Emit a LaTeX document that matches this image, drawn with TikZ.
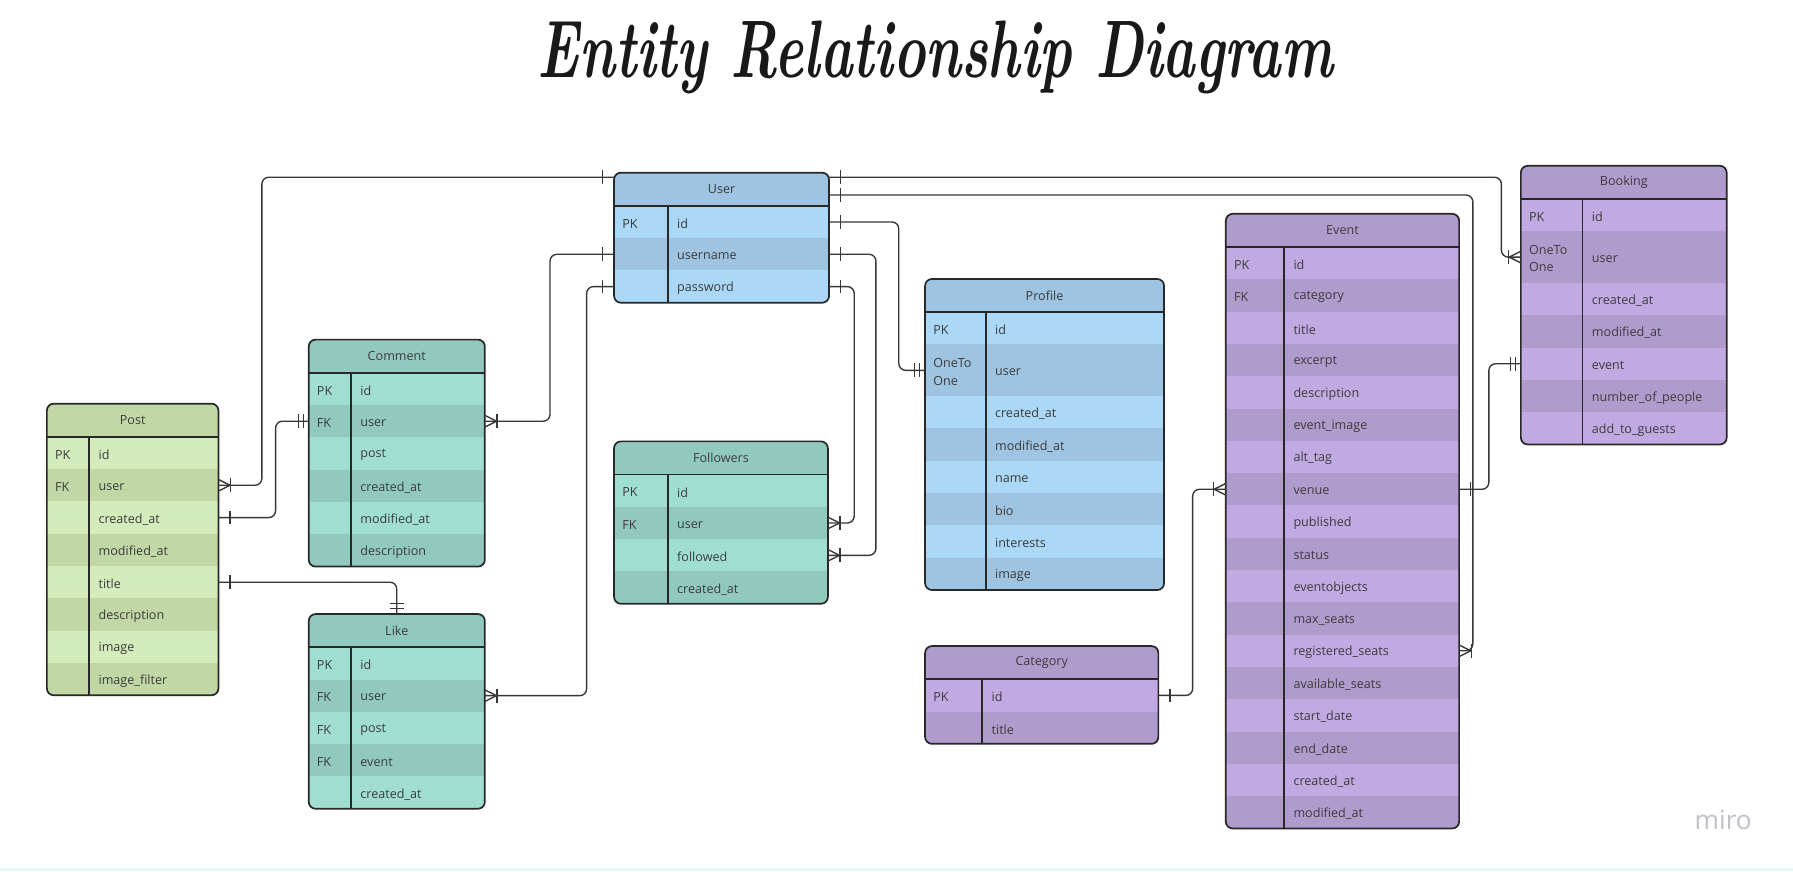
\documentclass[tikz,border=0pt]{standalone}
\usepackage{fontspec}
\usepackage{graphicx}
\newfontfamily\osans{Open Sans}
\usetikzlibrary{calc}
\definecolor{blueL}{RGB}{170,216,246}
\definecolor{blueD}{RGB}{158,196,226}
\definecolor{greenL}{RGB}{212,235,187}
\definecolor{greenD}{RGB}{193,215,166}
\definecolor{tealL}{RGB}{160,222,209}
\definecolor{tealD}{RGB}{146,201,190}
\definecolor{purpL}{RGB}{193,170,226}
\definecolor{purpD}{RGB}{176,155,205}
\definecolor{lineC}{RGB}{55,55,55}
\definecolor{borderC}{RGB}{40,40,40}
\definecolor{txtC}{RGB}{60,60,60}
\definecolor{titleC}{RGB}{25,25,25}
\definecolor{miroC}{RGB}{192,192,200}
\definecolor{bandC}{RGB}{232,247,247}
\tikzset{
  conn/.style={draw=lineC, line width=1.2pt, rounded corners=6pt},
  mk/.style={draw=lineC, line width=1.2pt},
  tline/.style={draw=borderC, line width=1.5pt},
  hdrbox/.style={inner sep=0pt, font=\osans\fontsize{11}{13}\selectfont, text=txtC},
  rowbox/.style={inner sep=0pt},
  keytxt/.style={anchor=west, inner sep=0pt, align=left, font=\osans\fontsize{11}{15}\selectfont, text=txtC},
  fldtxt/.style={anchor=west, inner sep=0pt, font=\osans\fontsize{11}{13}\selectfont, text=txtC},
}
% #1 name, #2 left, #3 divider, #4 right, #5 top, #6 title, #7 palette, #8 rows key/field/id/h
\newcommand\ertable[8]{%
  \pgfmathsetmacro\tW{#4-#2}%
  \xdef\tH{29}%
  \foreach \k/\f/\n/\h in {#8}{\pgfmathsetmacro\tmp{\tH+\h*28.25}\xdef\tH{\tmp}}%
  \pgfmathsetmacro\tB{#5+\tH}%
  \begin{scope}
    \clip[rounded corners=6pt] (#2,#5) rectangle (#4,\tB);
    \fill[#7D] (#2,#5) rectangle (#4,#5+29);
    \pgfmathsetmacro\tmp{#5+29}\xdef\cy{\tmp}\xdef\ri{0}%
    \foreach \k/\f/\n/\h in {#8}{%
      \pgfmathsetmacro\rh{\h*28.25}%
      \pgfmathsetmacro\ny{\cy+\rh}%
      \pgfmathsetmacro\my{\cy+\rh/2}%
      \ifodd\ri\relax \def\rc{#7D}\else\def\rc{#7L}\fi
      \fill[\rc] (#2,\cy) rectangle (#4,\ny);
      \node[rowbox, minimum width=\tW pt, minimum height=\rh pt] (#1-\n) at ({(#2+#4)/2},\my) {};
      \node[keytxt] at (#2+7,\my+1.5) {\k};
      \node[fldtxt] at (#3+8,\my+1.5) {\f};
      \xdef\cy{\ny}%
      \pgfmathtruncatemacro\tmp{\ri+1}\xdef\ri{\tmp}%
    }%
  \end{scope}
  \node[hdrbox, minimum width=\tW pt, minimum height=29pt] (#1-hdr) at ({(#2+#4)/2},#5+14.5) {#6};
  \draw[tline] (#2,#5+29) -- (#4,#5+29);
  \draw[tline] (#3,#5+29) -- (#3,\tB);
  \draw[tline, rounded corners=6pt] (#2,#5) rectangle (#4,\tB);
}
\newcommand\markone[2]{\begin{scope}[shift={(#1)},xscale=#2]
  \draw[mk] (10,-6) -- (10,6);
\end{scope}}
\newcommand\marktwo[2]{\begin{scope}[shift={(#1)},xscale=#2]
  \draw[mk] (4.5,-6) -- (4.5,6);
  \draw[mk] (9,-6) -- (9,6);
\end{scope}}
\newcommand\markcrow[2]{\begin{scope}[shift={(#1)},xscale=#2]
  \draw[mk] (0,-5) -- (10,0) -- (0,5);
  \draw[mk] (10.5,-6) -- (10.5,6);
\end{scope}}
\newcommand\marktwodown[1]{%
  \draw[mk] ([shift={(-6,-4.5)}]#1) -- ++(12,0);
  \draw[mk] ([shift={(-6,-9)}]#1) -- ++(12,0);
}
\begin{document}
\begin{tikzpicture}[x=1pt,y=-1pt]
\useasboundingbox (0,0) rectangle (1568,762);
\fill[white] (0,0) rectangle (1568,762);
\fill[bandC] (0,759) rectangle (1568,762);

\node[text=titleC, inner sep=0pt] (title) at (818,50)
  {\resizebox*{695pt}{64pt}{\bfseries\itshape Entity Relationship Diagram}};
\node[text=miroC, inner sep=0pt, font=\osans\fontsize{23}{23}\selectfont] (miro) at (1507,717) {miro};

\ertable{post}{41}{78}{191}{353}{Post}{green}{PK/id/id/1, FK/user/user/1, /created\_at/created/1, /modified\_at/modified/1, /title/title/1, /description/desc/1, /image/image/1, /image\_filter/filter/1}
\ertable{com}{270}{307}{424}{297}{Comment}{teal}{PK/id/id/1, FK/user/user/1, /post/post/1, /created\_at/created/1, /modified\_at/modified/1, /description/desc/1}
\ertable{like}{270}{307}{424}{537}{Like}{teal}{PK/id/id/1, FK/user/user/1, FK/post/post/1, FK/event/event/1, /created\_at/created/1}
\ertable{user}{537}{584}{725}{151}{User}{blue}{PK/id/id/1, /username/username/1, /password/password/1}
\ertable{fol}{537}{584}{724}{386}{Followers}{teal}{PK/id/id/1, FK/user/user/1, /followed/followed/1, /created\_at/created/1}
\ertable{prof}{809}{862}{1018}{244}{Profile}{blue}{PK/id/id/1, OneTo\\One/user/user/1.6, /created\_at/created/1, /modified\_at/modified/1, /name/name/1, /bio/bio/1, /interests/interests/1, /image/image/1}
\ertable{cat}{809}{859}{1013}{565}{Category}{purp}{PK/id/id/1, /title/title/1}
\ertable{ev}{1072}{1123}{1276}{187}{Event}{purp}{PK/id/id/1, FK/category/category/1, /title/title/1, /excerpt/excerpt/1, /description/desc/1, /event\_image/eimage/1, /alt\_tag/alt/1, /venue/venue/1, /published/published/1, /status/status/1, /eventobjects/eobj/1, /max\_seats/max/1, /registered\_seats/reg/1, /available\_seats/avail/1, /start\_date/start/1, /end\_date/end/1, /created\_at/created/1, /modified\_at/modified/1}
\ertable{book}{1330}{1384}{1510}{145}{Booking}{purp}{PK/id/id/1, OneTo\\One/user/user/1.6, /created\_at/created/1, /modified\_at/modified/1, /event/event/1, /number\_of\_people/people/1, /add\_to\_guests/guests/1}

\coordinate (uL) at ([yshift=10.5pt]user-hdr.west);
\coordinate (uR1) at ([yshift=10.5pt]user-hdr.east);
\coordinate (uR2) at ([yshift=-5pt]user-hdr.east);

\draw[conn] (uL) -- (229,0 |- uL) -- (229,0 |- post-user.east) -- (post-user.east);
\draw[conn] (user-username.west) -- (481,0 |- user-username.west) -- (481,0 |- com-user.east) -- (com-user.east);
\draw[conn] (user-password.west) -- (513,0 |- user-password.west) -- (513,0 |- like-user.east) -- (like-user.east);
\draw[conn] (post-created.east) -- (241,0 |- post-created.east) -- (241,0 |- com-user.west) -- (com-user.west);
\draw[conn] (post-title.east) -- (post-title.east -| like-hdr.north) -- (like-hdr.north);
\draw[conn] (user-id.east) -- (786,0 |- user-id.east) -- (786,0 |- prof-user.west) -- (prof-user.west);
\draw[conn] (user-username.east) -- (766,0 |- user-username.east) -- (766,0 |- fol-followed.east) -- (fol-followed.east);
\draw[conn] (user-password.east) -- (747,0 |- user-password.east) -- (747,0 |- fol-user.east) -- (fol-user.east);
\draw[conn] (uR1) -- (1313,0 |- uR1) -- (1313,0 |- book-user.west) -- (book-user.west);
\draw[conn] (uR2) -- (1288,0 |- uR2) -- (1288,0 |- ev-reg.east) -- (ev-reg.east);
\draw[conn] (ev-venue.east) -- (1302,0 |- ev-venue.east) -- (1302,0 |- book-event.west) -- (book-event.west);
\draw[conn] (cat-id.east) -- (1043,0 |- cat-id.east) -- (1043,0 |- ev-venue.west) -- (ev-venue.west);

\markone{uL}{-1} \markcrow{post-user.east}{1}
\markone{user-username.west}{-1} \markcrow{com-user.east}{1}
\markone{user-password.west}{-1} \markcrow{like-user.east}{1}
\markone{post-created.east}{1} \marktwo{com-user.west}{-1}
\markone{post-title.east}{1} \marktwodown{like-hdr.north}
\markone{user-id.east}{1} \marktwo{prof-user.west}{-1}
\markone{user-username.east}{1} \markcrow{fol-followed.east}{1}
\markone{user-password.east}{1} \markcrow{fol-user.east}{1}
\markone{uR1}{1} \markcrow{book-user.west}{-1}
\markone{uR2}{1} \markcrow{ev-reg.east}{1}
\markone{ev-venue.east}{1} \marktwo{book-event.west}{-1}
\markone{cat-id.east}{1} \markcrow{ev-venue.west}{-1}
\end{tikzpicture}
\end{document}
